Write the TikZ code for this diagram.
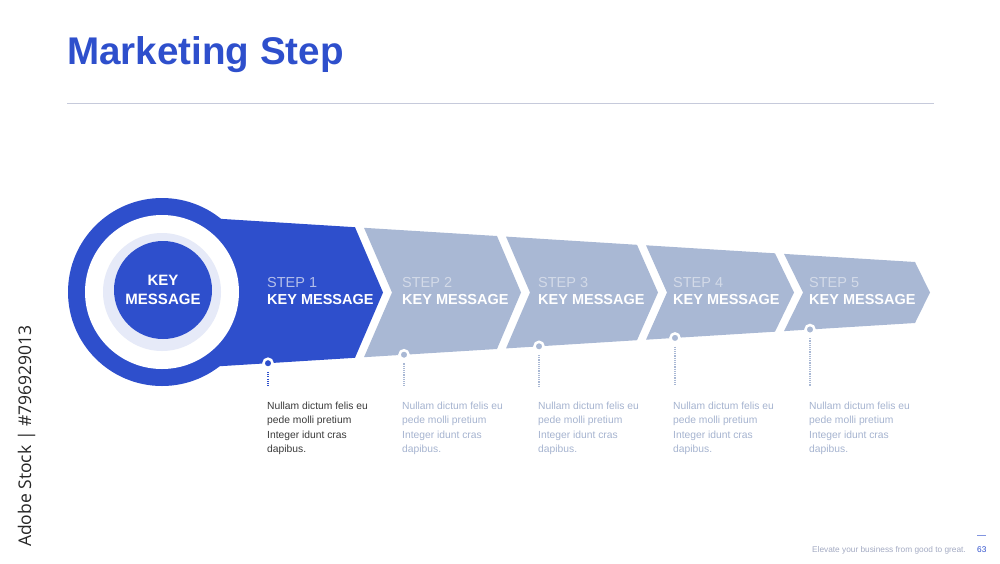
\documentclass[tikz,border=0pt]{standalone}
\usepackage{fontspec}
\setmainfont{Liberation Sans}
\newfontfamily\wmfont{Open Sans}
\definecolor{mblue}{HTML}{2E4FCC}
\definecolor{mgray}{HTML}{A9B8D4}
\definecolor{mlight}{HTML}{E6EAF8}
\definecolor{steplblA}{HTML}{B4BFEA}
\definecolor{steplblB}{HTML}{D3DAE8}
\definecolor{bodydark}{HTML}{3A3A3A}
\definecolor{bodygray}{HTML}{A5B3CF}
\definecolor{rulec}{HTML}{C6CADB}
\definecolor{footc}{HTML}{A3AAC2}
\begin{document}
\begin{tikzpicture}[x=1pt,y=-1pt,
  title/.style={anchor=base west, inner sep=0, text=mblue, font=\fontsize{38.6}{40}\selectfont\bfseries},
  steplbl/.style={anchor=base west, inner sep=0, font=\fontsize{14.5}{16}\selectfont},
  keylbl/.style={anchor=base west, inner sep=0, text=white, font=\fontsize{14.5}{16}\selectfont\bfseries},
  body/.style={anchor=north west, inner sep=0, align=left, font=\fontsize{10.3}{14.5}\selectfont},
  dotmark/.style={circle, inner sep=0, minimum size=9, draw=white, line width=2.5},
  vdots/.style={line width=1.2, dash pattern=on 1.1pt off 1.1pt},
  disc/.style={circle, inner sep=0, minimum size=#1}
]
\useasboundingbox (0,0) rectangle (1000,563);

% title and rule
\node[title] (title) at (67,64) {Marketing Step};
\coordinate (r1) at (67,103);
\coordinate (r2) at (934,103);
\draw[rulec, line width=0.8] (r1) -- (r2);

% chevrons
\fill[mblue] (162,215.2) -- (355,227.2) -- (383,292.5) -- (355,357.8) -- (162,369.8) -- cycle;
\fill[mgray] (364,227.8) -- (497,236.0) -- (521,292.5) -- (497,349.0) -- (364,357.2) -- (392,292.5) -- cycle;
\fill[mgray] (506,236.6) -- (637,244.8) -- (658,292.5) -- (637,340.2) -- (506,348.4) -- (530,292.5) -- cycle;
\fill[mgray] (646,245.3) -- (775,253.3) -- (794,292.5) -- (775,331.7) -- (646,339.7) -- (667,292.5) -- cycle;
\fill[mgray] (784,253.9) -- (915,262.0) -- (930,292.5) -- (915,323.0) -- (784,331.1) -- (803,292.5) -- cycle;

% big circle
\node[disc=188, fill=mblue] (outer) at (162,292) {};
\node[disc=154, fill=white] (wring) at (162,292) {};
\node[disc=118, fill=mlight] (lring) at (162,292) {};
\node[disc=98, fill=mblue, align=center, text=white,
      font=\fontsize{15}{19}\selectfont\bfseries] (core) at (163,290) {KEY\\MESSAGE};

% step labels
\node[steplbl, text=steplblA] (s1) at (267,287) {STEP 1};
\node[keylbl] (k1) at (267,304) {KEY MESSAGE};
\node[steplbl, text=steplblB] (s2) at (402,287) {STEP 2};
\node[keylbl] (k2) at (402,304) {KEY MESSAGE};
\node[steplbl, text=steplblB] (s3) at (538,287) {STEP 3};
\node[keylbl] (k3) at (538,304) {KEY MESSAGE};
\node[steplbl, text=steplblB] (s4) at (673,287) {STEP 4};
\node[keylbl] (k4) at (673,304) {KEY MESSAGE};
\node[steplbl, text=steplblB] (s5) at (809,287) {STEP 5};
\node[keylbl] (k5) at (809,304) {KEY MESSAGE};

% dots and dotted leaders
\node[dotmark, fill=mblue] (d1) at (268,363.2) {};
\node[dotmark, fill=mgray] (d2) at (404,354.7) {};
\node[dotmark, fill=mgray] (d3) at (539,346.3) {};
\node[dotmark, fill=mgray] (d4) at (675,337.9) {};
\node[dotmark, fill=mgray] (d5) at (810,329.5) {};
\coordinate (e1) at (268,386);
\coordinate (e2) at (404,386);
\coordinate (e3) at (539,386);
\coordinate (e4) at (675,386);
\coordinate (e5) at (810,386);
\draw[vdots, mblue] ([yshift=-3pt]d1.south) -- (e1);
\draw[vdots, mgray] ([yshift=-3pt]d2.south) -- (e2);
\draw[vdots, mgray] ([yshift=-3pt]d3.south) -- (e3);
\draw[vdots, mgray] ([yshift=-3pt]d4.south) -- (e4);
\draw[vdots, mgray] ([yshift=-3pt]d5.south) -- (e5);

% body texts
\node[body, text=bodydark] (b1) at (267,401.5) {Nullam dictum felis eu\\pede molli pretium\\Integer idunt cras\\dapibus.};
\node[body, text=bodygray] (b2) at (402,401.5) {Nullam dictum felis eu\\pede molli pretium\\Integer idunt cras\\dapibus.};
\node[body, text=bodygray] (b3) at (538,401.5) {Nullam dictum felis eu\\pede molli pretium\\Integer idunt cras\\dapibus.};
\node[body, text=bodygray] (b4) at (673,401.5) {Nullam dictum felis eu\\pede molli pretium\\Integer idunt cras\\dapibus.};
\node[body, text=bodygray] (b5) at (809,401.5) {Nullam dictum felis eu\\pede molli pretium\\Integer idunt cras\\dapibus.};

% footer
\node[anchor=base east, inner sep=0, text=footc, font=\fontsize{8.3}{9}\selectfont] (foot) at (966,552) {Elevate your business from good to great.};
\node[anchor=base west, inner sep=0, text=mblue, font=\fontsize{8.3}{9}\selectfont] (pg) at (977,552) {63};
\coordinate (p1) at (977,535);
\coordinate (p2) at (986,535);
\draw[mblue!60, line width=0.7] (p1) -- (p2);

% vertical stock label
\node[anchor=base west, inner sep=0, rotate=90, text=black!85, font=\wmfont\fontsize{17.5}{19}\selectfont] (wm) at (31,547) {Adobe Stock | \#796929013};
\end{tikzpicture}
\end{document}
